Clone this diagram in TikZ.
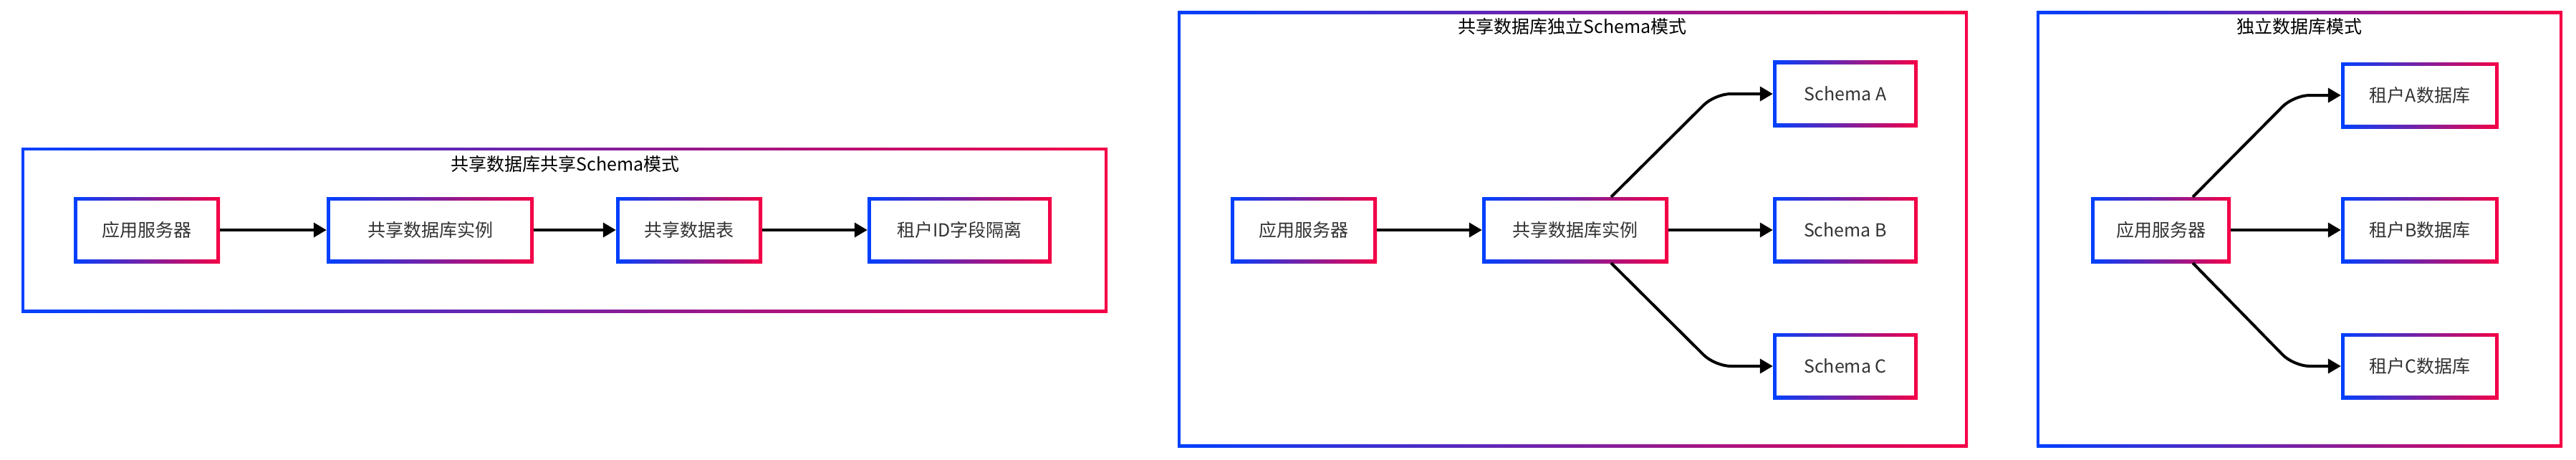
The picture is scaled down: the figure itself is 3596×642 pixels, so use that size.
\documentclass[tikz,border=0pt]{standalone}
\usepackage{fontspec}
\setmainfont{Noto Sans CJK SC}
\usetikzlibrary{arrows.meta}
\definecolor{gblue}{RGB}{0,64,255}
\definecolor{gred}{RGB}{245,0,70}
\definecolor{txt}{RGB}{51,51,51}
\begin{document}
\begin{tikzpicture}[x=1pt,y=-1pt,
  gb/.style={inner sep=0pt,
    path picture={
      \shade[left color=gblue,right color=gred] (path picture bounding box.south west) rectangle (path picture bounding box.north east);
      \fill[white] ([shift={(#1,-#1)}]path picture bounding box.south west) rectangle ([shift={(-#1,#1)}]path picture bounding box.north east);
    }},
  nd/.style={gb=5, font=\fontsize{25}{30}\selectfont, text=txt},
  grp/.style={gb=4},
  ttl/.style={font=\fontsize{25}{30}\selectfont, text=black},
  arr/.style={line width=4pt, -{Triangle[length=18pt,width=20pt]}, rounded corners=22pt}]
\useasboundingbox (0,0) rectangle (3596,642);
% group frames
\node[grp, minimum width=1516pt, minimum height=230pt] (g1) at (788,321) {};
\node[grp, minimum width=1103pt, minimum height=608pt] (g2) at (2195.5,320) {};
\node[grp, minimum width=734pt, minimum height=608pt] (g3) at (3210,320) {};
\node[ttl] (t1) at (789,229) {共享数据库共享Schema模式};
\node[ttl] (t2) at (2195,37) {共享数据库独立Schema模式};
\node[ttl] (t3) at (3210,37) {独立数据库模式};
% group 1
\node[nd, minimum width=204pt, minimum height=92pt] (a1) at (205,321) {应用服务器};
\node[nd, minimum width=289pt, minimum height=92pt] (a2) at (600.5,321) {共享数据库实例};
\node[nd, minimum width=204pt, minimum height=92pt] (a3) at (962,321) {共享数据表};
\node[nd, minimum width=257pt, minimum height=92pt] (a4) at (1339.5,321) {租户ID字段隔离};
\draw[arr] (a1) -- (a2);
\draw[arr] (a2) -- (a3);
\draw[arr] (a3) -- (a4);
% group 2
\node[nd, minimum width=204pt, minimum height=92pt] (b1) at (1820,321) {应用服务器};
\node[nd, minimum width=260pt, minimum height=92pt] (b2) at (2199,321) {共享数据库实例};
\node[nd, minimum width=202pt, minimum height=92pt] (sa) at (2576,131) {Schema A};
\node[nd, minimum width=202pt, minimum height=92pt] (sb) at (2576,321) {Schema B};
\node[nd, minimum width=202pt, minimum height=92pt] (sc) at (2576,511) {Schema C};
\coordinate (b2n) at (2249,275);
\coordinate (b2s) at (2249,367);
\draw[arr] (b1) -- (b2);
\draw[arr] (b2) -- (sb);
\draw[arr] (b2n) -- (2394,131) -- (sa.west);
\draw[arr] (b2s) -- (2394,511) -- (sc.west);
% group 3
\node[nd, minimum width=195pt, minimum height=92pt] (c1) at (3016.5,321) {应用服务器};
\node[nd, minimum width=220pt, minimum height=92pt] (ta) at (3378,133) {租户A数据库};
\node[nd, minimum width=220pt, minimum height=92pt] (tb) at (3378,321) {租户B数据库};
\node[nd, minimum width=220pt, minimum height=92pt] (tc) at (3378,511) {租户C数据库};
\coordinate (c1n) at (3061,275);
\coordinate (c1s) at (3061,367);
\draw[arr] (c1) -- (tb);
\draw[arr] (c1n) -- (3202,133) -- (ta.west);
\draw[arr] (c1s) -- (3202,511) -- (tc.west);
\end{tikzpicture}
\end{document}
